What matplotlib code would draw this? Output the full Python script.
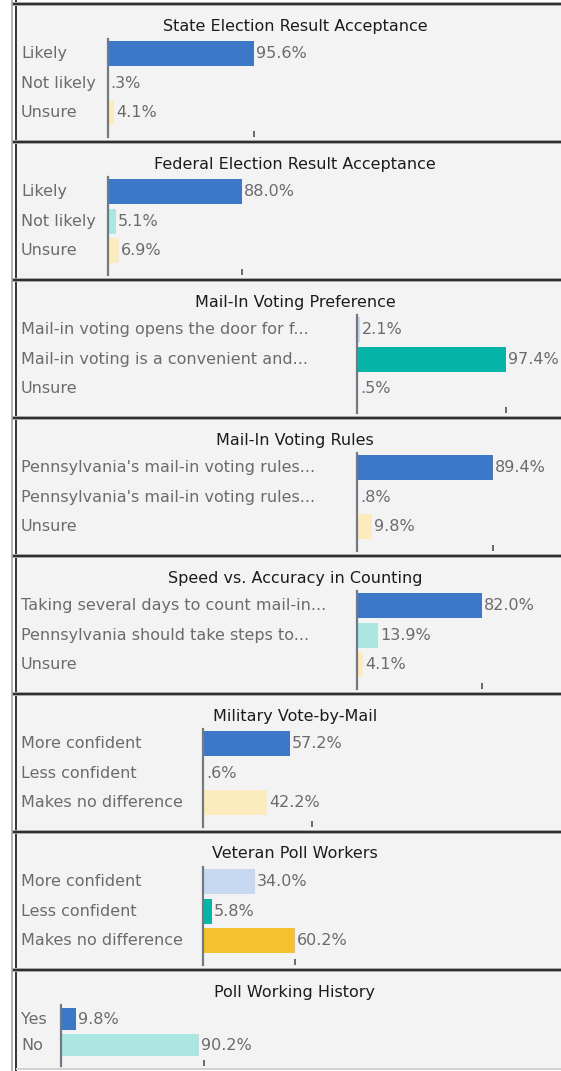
import matplotlib
matplotlib.use("Agg")
import matplotlib.pyplot as plt
from matplotlib.lines import Line2D
from matplotlib.patches import Rectangle
from matplotlib.transforms import blended_transform_factory

W, H, DPI = 561, 1071, 100

# survey panels
titles = [
    "State Election Result Acceptance",
    "Federal Election Result Acceptance",
    "Mail-In Voting Preference",
    "Mail-In Voting Rules",
    "Speed vs. Accuracy in Counting",
    "Military Vote-by-Mail",
    "Veteran Poll Workers",
    "Poll Working History",
]
categories = [
    ["Likely", "Not likely", "Unsure"],
    ["Likely", "Not likely", "Unsure"],
    ["Mail-in voting opens the door for f...",
     "Mail-in voting is a convenient and...", "Unsure"],
    ["Pennsylvania's mail-in voting rules...",
     "Pennsylvania's mail-in voting rules...", "Unsure"],
    ["Taking several days to count mail-in...",
     "Pennsylvania should take steps to...", "Unsure"],
    ["More confident", "Less confident", "Makes no difference"],
    ["More confident", "Less confident", "Makes no difference"],
    ["Yes", "No"],
]
values = [
    [95.6, 0.3, 4.1],
    [88.0, 5.1, 6.9],
    [2.1, 97.4, 0.5],
    [89.4, 0.8, 9.8],
    [82.0, 13.9, 4.1],
    [57.2, 0.6, 42.2],
    [34.0, 5.8, 60.2],
    [9.8, 90.2],
]

BLUE, LTEAL, LYEL = "#3b78c8", "#ace6e1", "#fcebbd"
TEAL, LBLUE, GOLD = "#07b4a8", "#c6d9f1", "#f4c22c"
bar_colors = [
    [BLUE, LTEAL, LYEL],
    [BLUE, LTEAL, LYEL],
    [LBLUE, TEAL, LYEL],
    [BLUE, LTEAL, LYEL],
    [BLUE, LTEAL, LYEL],
    [BLUE, LTEAL, LYEL],
    [LBLUE, TEAL, GOLD],
    [BLUE, LTEAL],
]

# layout (pixels)
axis_x = [108, 108, 357, 357, 357, 203, 203, 61]
tick_at = [95.6, 88.0, 97.4, 89.4, 82.0, 71.7, 60.0, 94.0]
PX_PER_PCT = 1.525
PANEL_TOP, PANEL_H = 4, 138
LABEL_X, TITLE_X = 21, 295
LABEL_COLOR, TITLE_COLOR = "#6c6a6e", "#1c1c1c"
FS = 11.5


def fx(x):
    return x / W


def fy(y):
    return 1 - y / H


def lw(px):
    return px * 72 / DPI


fig = plt.figure(figsize=(W / DPI, H / DPI), dpi=DPI, facecolor="white")

# panel background and frame
fig.patches.append(Rectangle((fx(17), fy(1068)), fx(W - 17), (1068 - PANEL_TOP) / H,
                             transform=fig.transFigure, facecolor="#f3f3f3",
                             edgecolor="none", zorder=-5))
fig.lines.append(Line2D([fx(12), fx(12)], [fy(0), fy(H)], transform=fig.transFigure,
                        color="#b4b4b4", lw=lw(2)))
fig.lines.append(Line2D([fx(15.5), fx(15.5)], [fy(0), fy(H)], transform=fig.transFigure,
                        color="#3a3a3a", lw=lw(2)))
for k in range(len(titles)):
    y = PANEL_TOP + PANEL_H * k
    fig.lines.append(Line2D([fx(14), 1], [fy(y), fy(y)], transform=fig.transFigure,
                            color="#a8a8a8", lw=lw(4)))
    fig.lines.append(Line2D([fx(14), 1], [fy(y), fy(y)], transform=fig.transFigure,
                            color="#2e2e2e", lw=lw(2)))
fig.lines.append(Line2D([fx(17), 1], [fy(1068.5), fy(1068.5)], transform=fig.transFigure,
                        color="#d2d2d2", lw=lw(2)))

for i, title in enumerate(titles):
    top = PANEL_TOP + PANEL_H * i
    n = len(values[i])
    ax_top = top + 35
    if n == 3:
        ax_bot, row0, step = top + 133, 14.5, 29.6
    else:
        ax_bot, row0, step = top + 96, 14, 26
    span = ax_bot - ax_top
    x0 = axis_x[i]
    ax = fig.add_axes([fx(x0), fy(ax_bot), fx(W - x0), span / H])
    ax.patch.set_visible(False)

    ax.barh(range(n), values[i], height=0.84, color=bar_colors[i],
            edgecolor="none", zorder=2)
    ax.set_xlim(0, (W - x0) / PX_PER_PCT)
    ax.set_ylim((span - row0) / step, -row0 / step)

    for s in ("top", "right", "bottom"):
        ax.spines[s].set_visible(False)
    ax.spines["left"].set_color("#737981")
    ax.spines["left"].set_linewidth(lw(2.2))
    ax.spines["left"].set_zorder(3)
    ax.set_yticks([])
    ax.set_xticks([tick_at[i]])
    ax.tick_params(axis="x", direction="in", length=4, width=lw(2),
                   color="#6b6b6b", labelbottom=False)

    lab_tr = blended_transform_factory(fig.transFigure, ax.transData)
    for j, (cat, v) in enumerate(zip(categories[i], values[i])):
        ax.text(fx(LABEL_X), j, cat, transform=lab_tr, ha="left", va="center",
                fontsize=FS, color=LABEL_COLOR)
        txt = f"{v:.1f}%"
        if txt.startswith("0"):
            txt = txt[1:]
        ax.annotate(txt, (v, j), xytext=(2, 0), textcoords="offset pixels",
                    ha="left", va="center", fontsize=FS, color=LABEL_COLOR)

    fig.text(fx(TITLE_X), fy(top + 22), title, ha="center", va="center",
             fontsize=FS, color=TITLE_COLOR)

fig.savefig("out.png", dpi=DPI, facecolor="white")
